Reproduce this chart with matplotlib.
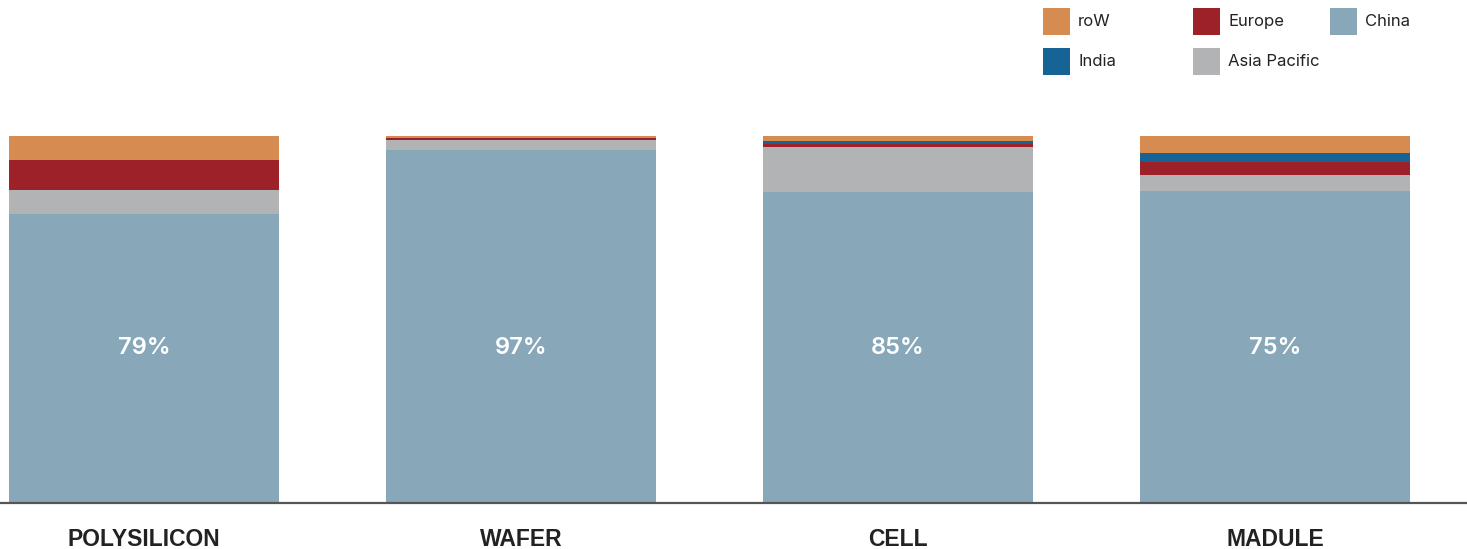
import matplotlib
matplotlib.use("Agg")
import matplotlib.pyplot as plt
from matplotlib.patches import Rectangle
import numpy as np

categories = ["POLYSILICON", "WAFER", "CELL", "MADULE"]
china = [78.8, 96.2, 84.8, 84.9]
asia_pacific = [6.5, 2.7, 12.3, 4.6]
europe = [8.2, 0.5, 0.8, 3.3]
india = [0.0, 0.0, 0.8, 2.7]
row = [6.5, 0.6, 1.3, 4.5]
bar_labels = ["79%", "97%", "85%", "75%"]

series = [
    ("China", china, "#88A8BA"),
    ("Asia Pacific", asia_pacific, "#B2B3B5"),
    ("Europe", europe, "#9C2128"),
    ("India", india, "#166496"),
    ("roW", row, "#D68C50"),
]

W, H = 1467, 549
fig = plt.figure(figsize=(W / 100, H / 100), dpi=100)
ax = fig.add_axes([0, (H - 503) / H, 1, 367 / H])

x = np.arange(len(categories))
bottom = np.zeros(len(categories))
for name, vals, col in series:
    vals = np.array(vals, dtype=float)
    ax.bar(x, vals, bottom=bottom, width=0.716, color=col, linewidth=0, zorder=2)
    bottom += vals

for xi, lab in zip(x, bar_labels):
    ax.text(xi, 42.3, lab, ha="center", va="center", color="white",
            fontsize=17, fontweight="semibold", family=["Inter", "DejaVu Sans"], zorder=3)

ax.set_xlim(-0.382, 3.509)
ax.set_ylim(0, 100)
for s in ["top", "right", "left"]:
    ax.spines[s].set_visible(False)
ax.spines["bottom"].set_color("#555555")
ax.spines["bottom"].set_linewidth(1.6)
ax.spines["bottom"].set_zorder(4)
ax.set_yticks([])
ax.set_xticks(x)
ax.set_xticklabels(categories, fontsize=16.5, fontweight="bold", color="#222222",
                   family=["Liberation Sans", "DejaVu Sans"])
ax.tick_params(axis="x", length=0, pad=18)

# Manual legend (row-major, 3 columns)
legend_order = ["roW", "Europe", "China", "India", "Asia Pacific"]
lookup = {n: c for n, _, c in series}
col_x = [1043, 1193, 1330]
row_y = [8, 48]
for i, name in enumerate(legend_order):
    r, c = divmod(i, 3)
    x0, y0 = col_x[c], row_y[r]
    fig.patches.append(Rectangle((x0 / W, 1 - (y0 + 27) / H), 27 / W, 27 / H,
                                 transform=fig.transFigure, color=lookup[name], linewidth=0))
    fig.text((x0 + 35) / W, 1 - (y0 + 13.5) / H, name, ha="left", va="center",
             fontsize=12, color="#222222", family=["Inter", "DejaVu Sans"])

fig.savefig("out.png", dpi=100)
